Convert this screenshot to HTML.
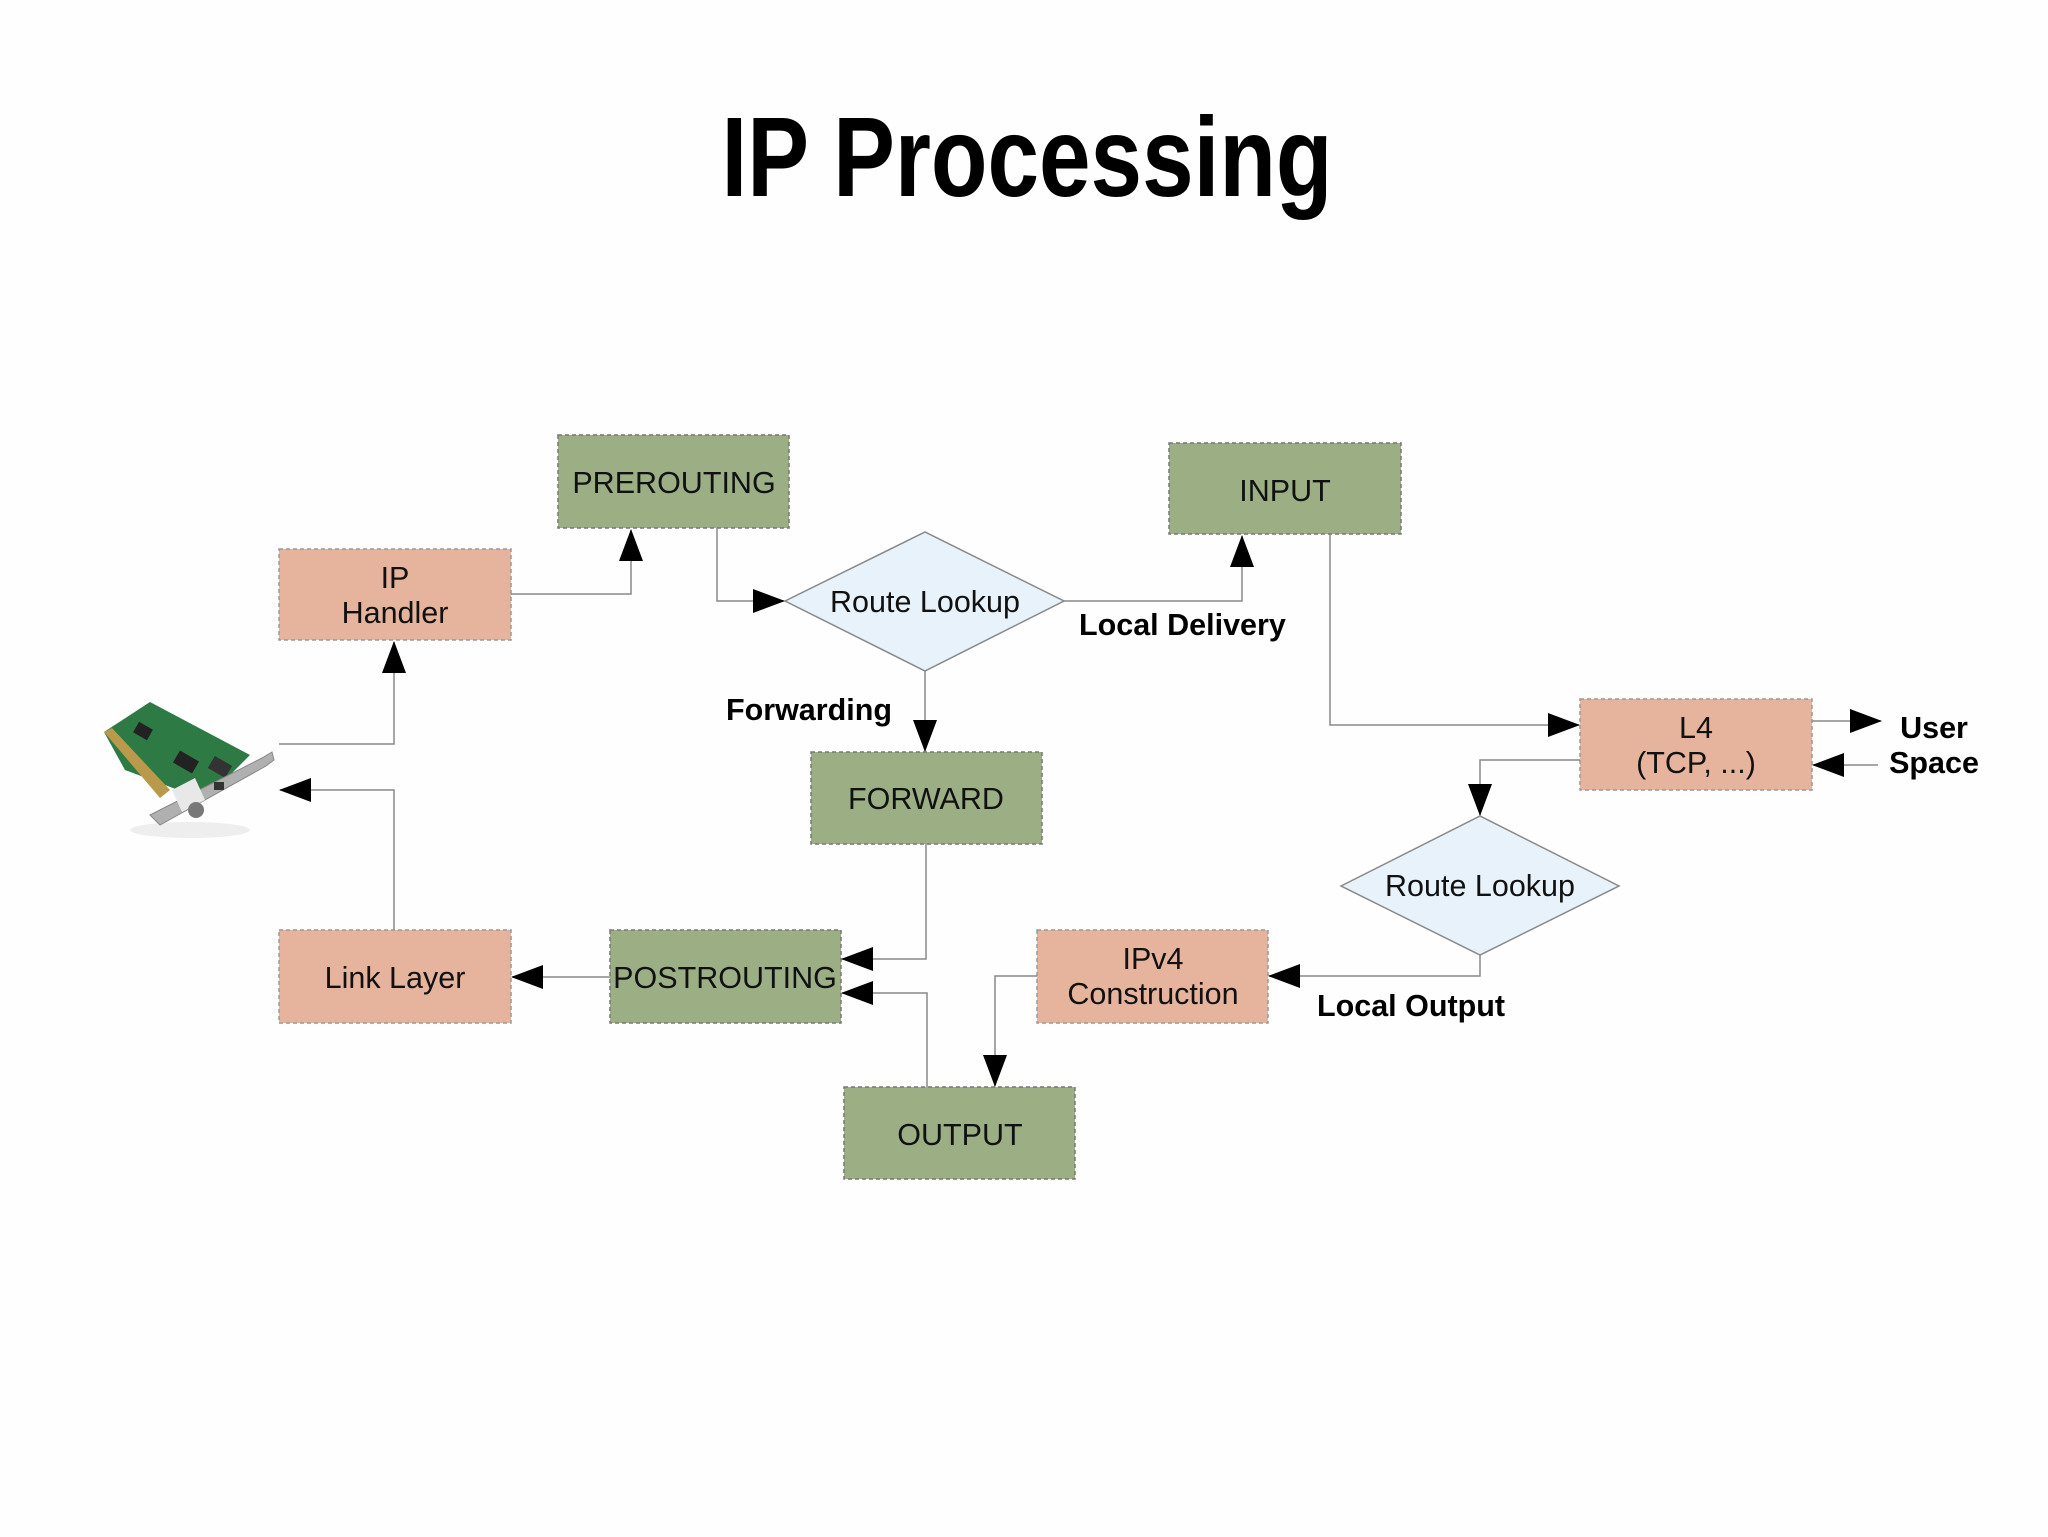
<!DOCTYPE html>
<html><head><meta charset="utf-8"><style>
html,body{margin:0;padding:0;background:#fff;}
svg{display:block;}
</style></head><body>
<svg width="2048" height="1537" viewBox="0 0 2048 1537" xmlns="http://www.w3.org/2000/svg">
<defs>
<marker id="a" markerUnits="userSpaceOnUse" markerWidth="32" markerHeight="24" refX="31" refY="12" orient="auto">
<path d="M0,0 L32,12 L0,24 Z" fill="#000"/>
</marker>
</defs>
<rect width="2048" height="1537" fill="#fefefe"/>
<text x="1027" y="196" font-family="'Liberation Sans',sans-serif" font-weight="bold" font-size="113" text-anchor="middle" textLength="611" lengthAdjust="spacingAndGlyphs">IP Processing</text>

<g font-family="'Liberation Sans',sans-serif" font-size="30.5" fill="#111" text-anchor="middle" stroke-width="1.5">
<g fill="#9caf84" stroke="#777" stroke-dasharray="4,3">
<rect x="558" y="435" width="231" height="93"/>
<rect x="1169" y="443" width="232" height="91"/>
<rect x="811" y="752" width="231" height="92"/>
<rect x="610" y="930" width="231" height="93"/>
<rect x="844" y="1087" width="231" height="92"/>
</g>
<g fill="#e6b49c" stroke="#999" stroke-dasharray="4,3">
<rect x="279" y="549" width="232" height="91"/>
<rect x="1580" y="699" width="232" height="91"/>
<rect x="1037" y="930" width="231" height="93"/>
<rect x="279" y="930" width="232" height="93"/>
</g>
<g fill="#e8f2fa" stroke="#888">
<polygon points="785,601 925,532 1064,601 925,671"/>
<polygon points="1341,886 1480,816 1619,886 1480,955"/>
</g>
<text x="674" y="493">PREROUTING</text>
<text x="1285" y="501">INPUT</text>
<text x="926" y="809">FORWARD</text>
<text x="725" y="988">POSTROUTING</text>
<text x="960" y="1145">OUTPUT</text>
<text x="395" y="588">IP</text>
<text x="395" y="623">Handler</text>
<text x="1696" y="738">L4</text>
<text x="1696" y="773">(TCP, ...)</text>
<text x="1153" y="969">IPv4</text>
<text x="1153" y="1004">Construction</text>
<text x="395" y="988">Link Layer</text>
<text x="925" y="612">Route Lookup</text>
<text x="1480" y="896">Route Lookup</text>
</g>

<g font-family="'Liberation Sans',sans-serif" font-size="30.5" font-weight="bold" fill="#000">
<text x="1079" y="635">Local Delivery</text>
<text x="892" y="720" text-anchor="end">Forwarding</text>
<text x="1317" y="1016">Local Output</text>
<text x="1934" y="738" text-anchor="middle">User</text>
<text x="1934" y="773" text-anchor="middle">Space</text>
</g>

<g fill="none" stroke="#888" stroke-width="1.5" marker-end="url(#a)">
<polyline points="279,744 394,744 394,642"/>
<polyline points="511,594 631,594 631,530"/>
<polyline points="717,528 717,601 784,601"/>
<polyline points="1064,601 1242,601 1242,536"/>
<polyline points="925,671 925,751"/>
<polyline points="1330,534 1330,725 1579,725"/>
<polyline points="1580,760 1480,760 1480,815"/>
<polyline points="1812,721 1881,721"/>
<polyline points="1878,765 1813,765"/>
<polyline points="1480,955 1480,976 1269,976"/>
<polyline points="1037,976 995,976 995,1086"/>
<polyline points="926,844 926,959 842,959"/>
<polyline points="927,1087 927,993 842,993"/>
<polyline points="610,977 512,977"/>
<polyline points="394,930 394,790 280,790"/>
</g>

<g>
<ellipse cx="190" cy="830" rx="60" ry="8" fill="#eee"/>
<polygon points="104,732 150,702 250,755 205,800 125,770" fill="#2e7a45"/>
<polygon points="104,732 112,728 170,790 160,798" fill="#b89a4a"/>
<rect x="175" y="755" width="22" height="14" fill="#222" transform="rotate(30 186 762)"/>
<rect x="135" y="725" width="16" height="12" fill="#222" transform="rotate(30 143 731)"/>
<rect x="210" y="760" width="20" height="14" fill="#333" transform="rotate(30 220 767)"/>
<polygon points="150,815 262,758 272,752 274,760 266,766 160,825" fill="#b0b0b0" stroke="#888"/>
<polygon points="172,790 195,778 205,800 182,812" fill="#e8e8e8"/>
<circle cx="196" cy="810" r="8" fill="#777"/>
<rect x="214" y="782" width="10" height="8" fill="#333"/>
</g>
</svg>
</body></html>
